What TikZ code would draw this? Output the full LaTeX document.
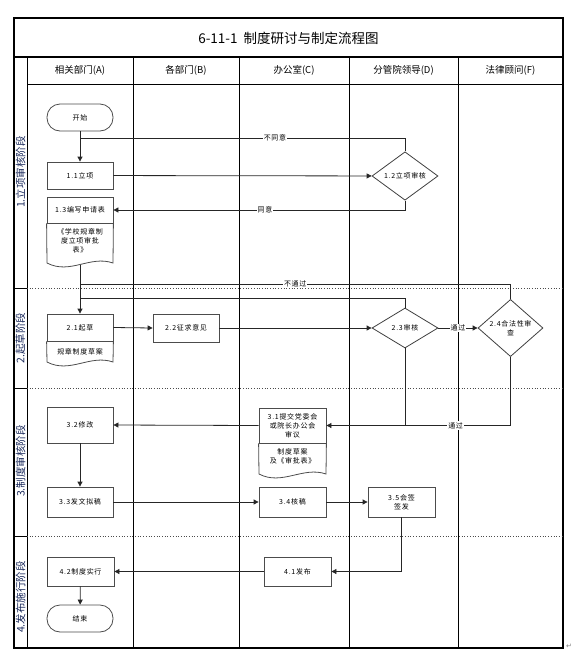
\documentclass[tikz,border=0pt]{standalone}
\usepackage{fontspec}
\newfontfamily\cjk{Noto Sans CJK SC}
\newfontfamily\cjkbox[LetterSpace=10]{Noto Sans CJK SC}
\newfontfamily\dejavu{DejaVu Sans}
\usetikzlibrary{shapes.geometric,arrows.meta}
\definecolor{phasecol}{RGB}{25,40,90}
\begin{document}
\begin{tikzpicture}[x=1pt,y=-1pt,
  frame/.style={line width=1.3pt,draw=black},
  colline/.style={line width=1pt,draw=black},
  divline/.style={dotted,line width=0.7pt,draw=black!70},
  boxfont/.style={font=\cjkbox\fontsize{7}{9}\selectfont},
  box/.style={boxfont,draw=black!70,line width=0.8pt,fill=white,minimum width=66pt,minimum height=27pt,inner sep=1pt,align=center},
  term/.style={box,rounded corners=13pt},
  dia/.style={boxfont,diamond,draw=black!75,line width=0.8pt,fill=white,minimum width=66pt,minimum height=40pt,inner sep=0pt,align=center},
  doctext/.style={boxfont,inner sep=0pt,align=center},
  docline/.style={draw=black!70,line width=0.8pt},
  con/.style={draw=black!85,line width=0.8pt},
  arr/.style={-{Triangle[length=5pt,width=5pt]}},
  lbl/.style={boxfont,fill=white,inner sep=1pt},
  hdr/.style={font=\cjk\fontsize{9.5}{11}\selectfont},
  ttl/.style={font=\cjk\fontsize{13.5}{16}\selectfont},
  phase/.style={font=\cjk\fontsize{10.5}{12}\selectfont,text=phasecol,rotate=90}
]
\useasboundingbox (0,0) rectangle (580,672);

% frame
\draw[frame] (14,18) rectangle (563,648);
\draw[frame] (14,57) -- (563,57);
\draw[colline] (27,57) -- (27,648);
\draw[colline] (27,84) -- (563,84);
\foreach \xx in {133,239,349,458} \draw[colline] (\xx,57) -- (\xx,648);
\foreach \yy in {288,388,536} {
  \draw[colline] (14,\yy) -- (27,\yy);
  \draw[divline] (27,\yy) -- (563,\yy);
}

% title and headers
\node[ttl] (title) at (288.5,38) {6-11-1\ \ 制度研讨与制定流程图};
\node[hdr] (hA) at (80,70.5) {相关部门(A)};
\node[hdr] (hB) at (186,70.5) {各部门(B)};
\node[hdr] (hC) at (294,70.5) {办公室(C)};
\node[hdr] (hD) at (403.5,70.5) {分管院领导(D)};
\node[hdr] (hF) at (510.5,70.5) {法律顾问(F)};

% phase labels
\node[phase] (p1) at (20.5,172) {1.立项审核阶段};
\node[phase] (p2) at (20.5,338) {2.起草阶段};
\node[phase] (p3) at (20.5,461) {3.制度审核阶段};
\node[phase] (p4) at (20.5,597) {4.发布施行阶段};

% phase 1
\node[term] (start) at (80,117.5) {开始};
\node[box] (n11) at (80,175.5) {1.1立项};
\node[dia] (n12) at (405,176) {1.2立项审核};
\node[box,minimum height=26pt] (n13) at (80,210) {1.3编写申请表};
\node[doctext] (n13b) at (80,241) {《学校规章制\\度立项审批\\表》};
\draw[docline] (n13.south west) -- (47,263) .. controls (70,275) and (90,255) .. (113,263) -- (n13.south east);
\coordinate (n13w) at (80,264.5);

% phase 2
\node[box,minimum height=27pt] (n21) at (80,327.5) {2.1起草};
\node[doctext] (n21b) at (80,352) {规章制度草案};
\draw[docline] (n21.south west) -- (47,362) .. controls (70,374) and (90,354) .. (113,362) -- (n21.south east);
\node[box,minimum height=28pt] (n22) at (186,328) {2.2征求意见};
\node[dia] (n23) at (405,328) {2.3审核};
\node[dia,minimum width=65pt] (n24) at (510.5,328) {2.4合法性审\\查};

% phase 3
\node[box,minimum width=67pt,minimum height=35pt] (n31) at (292.5,425.5) {3.1提交党委会\\或院长办公会\\审议};
\node[doctext] (n31b) at (292.5,456) {制度草案\\及《审批表》};
\draw[docline] (n31.south west) -- (259,474) .. controls (282,486) and (303,466) .. (326,474) -- (n31.south east);
\node[box,minimum height=36pt] (n32) at (80,425) {3.2修改};
\node[box,minimum height=30pt] (n33) at (80,502) {3.3发文拟稿};
\node[box,minimum width=67pt,minimum height=30pt] (n34) at (292.5,502) {3.4核稿};
\node[box,minimum width=67pt,minimum height=30pt] (n35) at (401.5,502) {3.5会签\\签发};

% phase 4
\node[box,minimum width=67pt,minimum height=29pt] (n41) at (297.5,571.5) {4.1发布};
\node[box,minimum width=67pt,minimum height=29pt] (n42) at (80.5,571.5) {4.2制度实行};
\node[term] (end) at (80,618.5) {结束};

% connectors phase 1
\coordinate (j12) at (80,138);
\draw[con,arr] (start) -- (n11);
\draw[con,arr] (n11) -- (n12);
\draw[con] (n12.north) |- node[lbl,pos=0.7]{不同意} (j12);
\draw[con,arr] (n12.south) |- node[lbl,pos=0.74]{同意} (n13.east);

% connectors phase 2
\coordinate (j24) at (80,284);
\coordinate (j23) at (80,298);
\draw[con,arr] (n13w) -- (n21.north);
\draw[con] (n24.north) |- node[lbl,pos=0.75]{不通过} (j24);
\draw[con] (n23.north) |- (j23);
\draw[con,arr] (n21.east) -- (n22.west);
\draw[con,arr] (n22) -- (n23);
\draw[con,arr] (n23) -- node[lbl]{通过} (n24);

% connectors phase 3
\coordinate (j31) at (n23.south |- n31.east);
\draw[con,arr] (n23.south) |- (n31.east);
\draw[con] (n24.south) |- node[lbl,pos=0.76]{通过} (j31);
\draw[con,arr] (n31.west) -- (n32.east);
\draw[con,arr] (n32) -- (n33);
\draw[con,arr] (n33) -- (n34);
\draw[con,arr] (n34) -- (n35);

% connectors phase 4
\draw[con,arr] (n35.south) |- (n41.east);
\draw[con,arr] (n41) -- (n42);
\draw[con,arr] (n42) -- (end);

\node[font=\dejavu\fontsize{7}{8}\selectfont,text=black!50] (para) at (569,646) {↵};
\end{tikzpicture}
\end{document}
